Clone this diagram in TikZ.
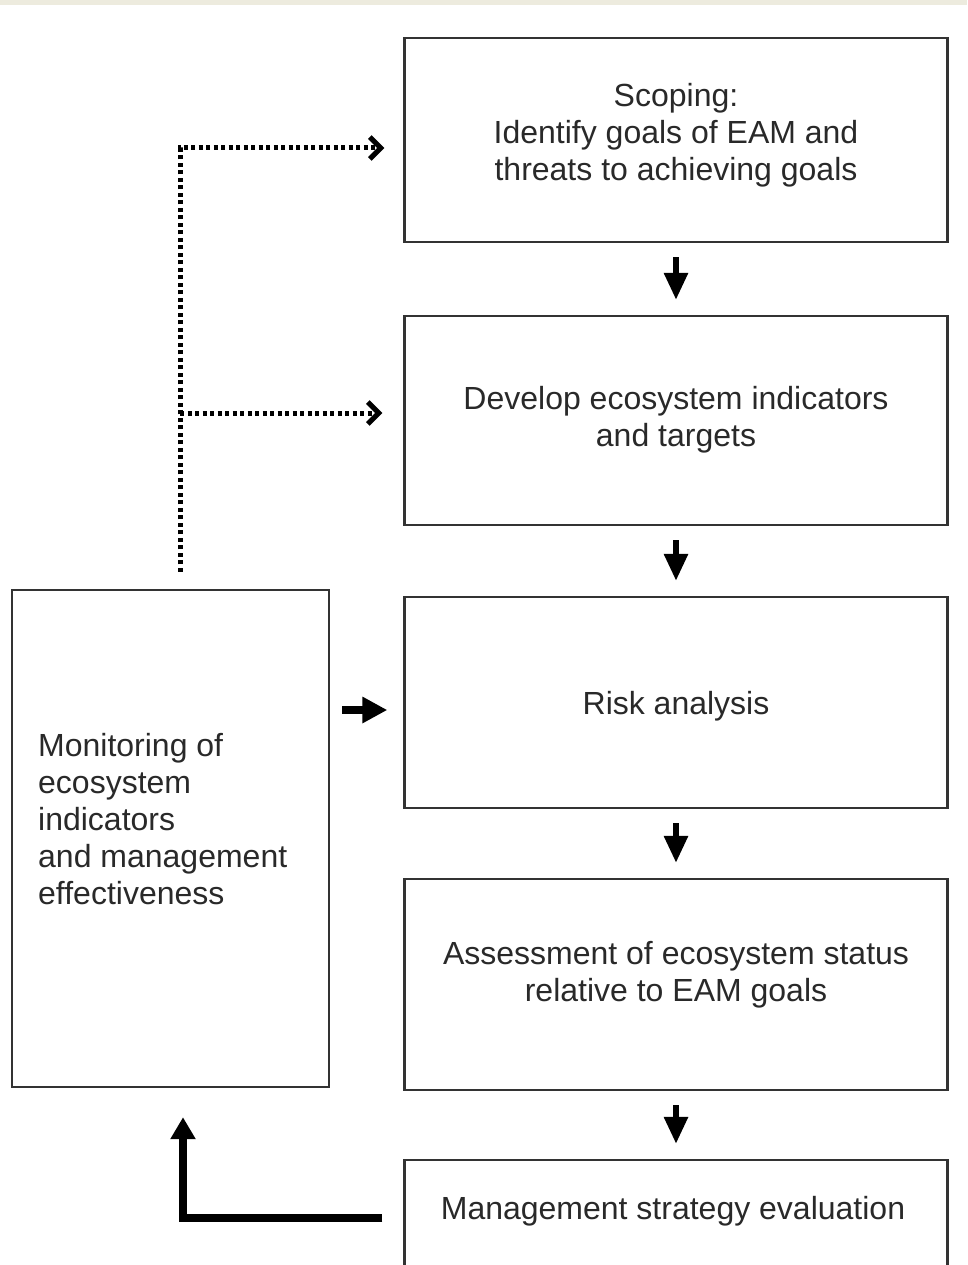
\documentclass[tikz,border=0pt]{standalone}
\usepackage{fontspec}
\setmainfont{Liberation Sans}
\usetikzlibrary{arrows.meta}
\definecolor{bxgray}{rgb}{0.2,0.2,0.2}
\definecolor{txgray}{rgb}{0.16,0.16,0.16}
\definecolor{bandbeige}{rgb}{0.93,0.92,0.87}
\begin{document}
\begin{tikzpicture}[line cap=butt,line join=miter,x=1pt,y=-1pt,
  box/.style={draw=bxgray,line width=2.4pt,minimum width=543pt,inner sep=0pt},
  txt/.style={text=txgray,align=center,inner sep=0pt,font=\fontsize{32}{37}\selectfont},
  flow/.style={-{Triangle[length=27pt,width=23pt]},line width=6pt,shorten <=14pt,shorten >=15pt},
  dotflow/.style={-{Straight Barb[length=11pt,width=22pt,line width=5pt]},line width=5pt,dash pattern=on 4pt off 3.5pt},
  back/.style={-{Triangle[length=22pt,width=24pt]},line width=8pt}]
\useasboundingbox (0,0) rectangle (967,1265);
\clip (0,0) rectangle (967,1265);
\fill[bandbeige] (0,0) rectangle (967,5);
%boxes
\node[box,minimum height=204pt] (scope) at (676,140) {};
\node[box,minimum height=209pt] (indic) at (676,420.5) {};
\node[box,minimum height=211pt] (risk) at (676,702.5) {};
\node[box,minimum height=211pt] (assess) at (676,984.5) {};
\node[box,minimum height=210pt] (mse) at (676,1265) {};
\node[box,minimum width=317pt,minimum height=497pt] (monit) at (170.5,838.5) {};
\node[txt] (scopetxt) at (676,135) {Scoping:\\Identify goals of EAM and\\threats to achieving goals};
\node[txt] (indictxt) at (676,420) {Develop ecosystem indicators\\and targets};
\node[txt] (risktxt) at (676,706) {Risk analysis};
\node[txt] (assesstxt) at (676,975) {Assessment of ecosystem status\\relative to EAM goals};
\node[txt] (msetxt) at (673,1211) {Management strategy evaluation};
\node[txt,align=left,anchor=west] (monittxt) at (38,819) {Monitoring of\\ecosystem\\indicators\\and management\\effectiveness};
%arrows
\draw[flow] (scope) -- (indic);
\draw[flow] (indic) -- (risk);
\draw[flow] (risk) -- (assess);
\draw[flow] (assess) -- (mse);
\coordinate (riskin) at ([yshift=-7.5pt]risk.west);
\draw[flow,-{Triangle[length=25pt,width=25pt]},line width=8pt,shorten <=12pt,shorten >=16pt] (riskin -| monit.east) -- (riskin);
\coordinate (mseout) at ([yshift=47pt]mse.west);
\draw[back,shorten <=21pt,shorten >=29pt] (mseout) -| ([xshift=12.5pt]monit.south);
\coordinate (dotfoot) at ([xshift=9.5pt]monit.north);
\coordinate (scopein) at ([yshift=-8pt]scope.west);
\coordinate (indicin) at ([yshift=7.5pt]indic.west);
\draw[dotflow,shorten <=17pt,shorten >=19pt] (dotfoot) |- (scopein);
\draw[dotflow,shorten >=21pt] (dotfoot |- indicin) -- (indicin);
\end{tikzpicture}
\end{document}
